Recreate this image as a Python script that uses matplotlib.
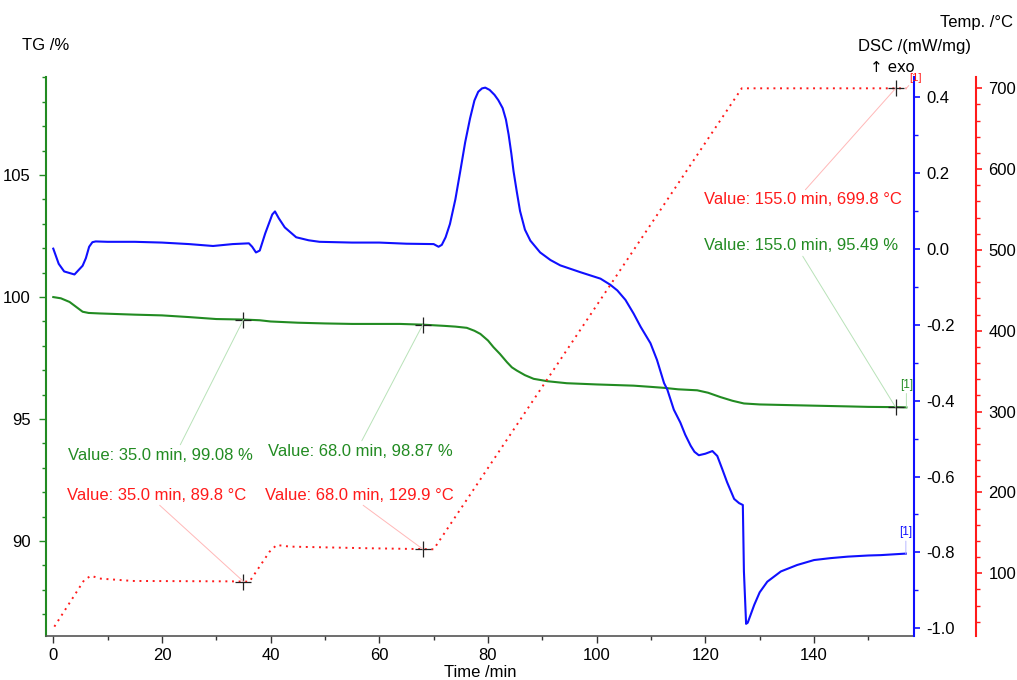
import matplotlib
matplotlib.use("Agg")
import matplotlib.pyplot as plt
from matplotlib.ticker import MultipleLocator

plt.rcParams['font.family'] = ['Liberation Sans', 'DejaVu Sans']

# ---------------- data ----------------
tg_time = [0, 1.4, 3, 4.5, 5.4, 6.5, 8.5, 15, 20, 25, 30, 35, 38, 40, 45, 50, 55, 60,
           63.8, 68, 72, 74, 76.1, 77.5, 78.6, 80, 81, 82.2, 83.5, 84.4, 85.3, 86.8,
           88.4, 91, 94.5, 100, 106.8, 110, 112.4, 115, 118.5, 120.5, 122.8, 125,
           127.1, 130, 133.9, 140, 146.2, 150, 155, 157]
tg_value = [100.0, 99.95, 99.8, 99.55, 99.4, 99.35, 99.33, 99.28, 99.25, 99.18, 99.1,
            99.08, 99.05, 99.0, 98.95, 98.92, 98.9, 98.9, 98.9, 98.87, 98.82, 98.79,
            98.74, 98.62, 98.49, 98.22, 97.95, 97.67, 97.33, 97.12, 96.99, 96.8, 96.65,
            96.55, 96.47, 96.42, 96.37, 96.32, 96.28, 96.22, 96.18, 96.08, 95.9, 95.75,
            95.64, 95.6, 95.58, 95.55, 95.52, 95.5, 95.49, 95.48]

dsc_time = [0, 1, 2, 3.9, 5.4, 6.0, 6.6, 7.2, 7.8, 10, 15, 20, 25, 29.4, 33, 36, 36.6, 37.3,
            38, 39, 40.3, 40.8, 41.5, 42.6, 44.7, 47, 49, 55, 60, 65, 70, 70.9, 71.5,
            72.2, 73, 74, 74.9, 75.8, 76.7, 77.5, 78.2, 78.9, 79.5, 80.3, 81.2, 81.9,
            82.7, 83.3, 83.8, 84.3, 84.7, 85.3, 85.9, 86.8, 87.8, 89.6, 91.5, 93.3, 97,
            100.7, 102.5, 103.8, 105.3, 106.8, 108.1, 109.9, 111.1, 112.4, 113, 114.2,
            115.4, 116.3, 117.3, 118.0, 118.8, 120, 121.3, 122.2, 123.1, 124, 125.3,
            126.2, 126.9, 127.1, 127.5, 127.8, 129, 130, 131.4, 133.9, 136.9, 140, 143,
            146.2, 150, 152.3, 156.9]
dsc_value = [0.0, -0.04, -0.06, -0.068, -0.045, -0.025, 0.005, 0.017, 0.019, 0.018, 0.018,
             0.016, 0.012, 0.007, 0.012, 0.014, 0.005, -0.01, -0.005, 0.04, 0.09, 0.098,
             0.08, 0.056, 0.03, 0.022, 0.018, 0.016, 0.016, 0.013, 0.012, 0.005, 0.01,
             0.03, 0.065, 0.13, 0.204, 0.28, 0.343, 0.39, 0.413, 0.422, 0.424, 0.418,
             0.405, 0.391, 0.37, 0.34, 0.3, 0.25, 0.204, 0.15, 0.099, 0.05, 0.021, -0.01,
             -0.03, -0.044, -0.062, -0.079, -0.095, -0.11, -0.135, -0.171, -0.206, -0.249,
             -0.293, -0.354, -0.371, -0.424, -0.458, -0.49, -0.519, -0.535, -0.544, -0.54,
             -0.533, -0.546, -0.58, -0.615, -0.659, -0.67, -0.675, -0.85, -0.988, -0.985,
             -0.938, -0.905, -0.877, -0.85, -0.833, -0.82, -0.815, -0.811, -0.808, -0.807,
             -0.803]

temp_time = [0.2, 5.7, 6.95, 8.5, 14.6, 33, 36.1, 39.8, 41.1, 43.5, 57.7, 70, 126.7, 157]
temp_value = [34, 91.7, 97, 93.5, 90.5, 90, 89.6, 126.7, 135, 133, 131, 129.7, 700, 700]

# annotated points: (time, value) and their labels
tg_marks = [(35.0, 99.08), (68.0, 98.87), (155.0, 95.49)]
temp_marks = [(35.0, 89.8), (68.0, 129.9), (155.0, 699.8)]
tg_labels = ["Value: 35.0 min, 99.08 %", "Value: 68.0 min, 98.87 %", "Value: 155.0 min, 95.49 %"]
temp_labels = ["Value: 35.0 min, 89.8 °C", "Value: 68.0 min, 129.9 °C", "Value: 155.0 min, 699.8 °C"]

# ---------------- styling ----------------
GREEN = '#228B22'
BLUE = '#1010FF'
RED = '#FF1A1A'
W, H = 1017, 680

fig = plt.figure(figsize=(W / 100, H / 100), dpi=100)
L, R, B, T = 46, 914, 636, 77
ax = fig.add_axes([L / W, 1 - B / H, (R - L) / W, (B - T) / H])
ax2 = ax.twinx()
ax3 = ax.twinx()

ax.set_xlim(-1.34, 158.4)
ax.set_ylim(86.11, 109.02)
ax2.set_ylim(-1.020, 0.452)
ax3.set_ylim(22.4, 714)

# lines
ax.plot(tg_time, tg_value, color=GREEN, lw=1.5, zorder=3)
ax2.plot(dsc_time, dsc_value, color=BLUE, lw=1.5, zorder=3)
ax3.plot(temp_time, temp_value, color=RED, lw=1.4, linestyle=(0, (1, 2.4)), zorder=3)

# spines
for a in (ax, ax2, ax3):
    a.patch.set_visible(False)
ax.spines['top'].set_visible(False)
ax.spines['right'].set_visible(False)
ax.spines['left'].set_color(GREEN)
ax.spines['left'].set_linewidth(1.5)
ax.spines['bottom'].set_color('#555555')
ax.spines['bottom'].set_linewidth(1.2)
for a in (ax2, ax3):
    a.spines['top'].set_visible(False)
    a.spines['left'].set_visible(False)
    a.spines['bottom'].set_visible(False)
ax2.spines['right'].set_color(BLUE)
ax2.spines['right'].set_linewidth(1.5)
ax3.spines['right'].set_position(('axes', 1 + 62 / (R - L)))
ax3.spines['right'].set_color(RED)
ax3.spines['right'].set_linewidth(1.5)

# ticks
ax.xaxis.set_major_locator(MultipleLocator(20))
ax.xaxis.set_minor_locator(MultipleLocator(10))
ax.yaxis.set_major_locator(MultipleLocator(5))
ax.yaxis.set_minor_locator(MultipleLocator(1))
ax2.yaxis.set_major_locator(MultipleLocator(0.2))
ax2.yaxis.set_minor_locator(MultipleLocator(0.1))
ax3.yaxis.set_major_locator(MultipleLocator(100))
ax3.yaxis.set_minor_locator(MultipleLocator(20))
ax2.yaxis.set_major_formatter(matplotlib.ticker.FormatStrFormatter('%.1f'))

ax.tick_params(axis='x', which='major', length=5, width=1, color='#333333', labelsize=12, pad=4)
ax.tick_params(axis='x', which='minor', length=3, width=1, color='#333333')
ax.tick_params(axis='y', which='major', length=5, width=1, color=GREEN, labelsize=12, pad=6)
ax.tick_params(axis='y', which='minor', length=3, width=1, color=GREEN)
ax2.tick_params(axis='y', which='major', length=4, width=1.2, color=BLUE, labelsize=12, pad=5)
ax2.tick_params(axis='y', which='minor', length=3, width=1, color=BLUE)
ax3.tick_params(axis='y', which='major', length=4, width=1.2, color=RED, labelsize=12, pad=5)
ax3.tick_params(axis='y', which='minor', length=3, width=1, color=RED)

ax.set_xlabel('Time /min', fontsize=12, labelpad=1)

# axis titles
fig.text(L / W, 1 - 46 / H, 'TG /%', ha='center', va='center', fontsize=12)
fig.text(R / W, 1 - 46 / H, 'DSC /(mW/mg)', ha='center', va='center', fontsize=12)
fig.text(976.5 / W, 1 - 23 / H, 'Temp. /°C', ha='center', va='center', fontsize=12)
fig.text(892 / W, 1 - 67 / H, '↑ exo', ha='center', va='center', fontsize=11,
         family=['DejaVu Sans'])

# markers
ax.plot([m[0] for m in tg_marks], [m[1] for m in tg_marks], '+', color='#222222',
        ms=11, mew=0.9, zorder=5)
ax3.plot([m[0] for m in temp_marks], [m[1] for m in temp_marks], '+', color='#222222',
         ms=11, mew=0.9, zorder=5)

def fx(px):
    return (px - L) / (R - L)

def fy(py):
    return (B - py) / (B - T)

LG = '#b8e2b8'
LR = '#ffb8b8'
tg_text_pos = [(68, 455, (0.6, 1)), (268, 451, (0.5, 1)), (704, 246, (0.5, 0))]
temp_text_pos = [(67, 495, (0.5, 0)), (265, 495, (0.5, 0)), (704, 200, (0.5, 1))]

for (t, v), lab, (px, py, rp) in zip(tg_marks, tg_labels, tg_text_pos):
    ax.annotate(lab, xy=(t, v), xytext=(fx(px), fy(py)), textcoords='axes fraction',
                ha='left', va='center', color=GREEN, fontsize=12, zorder=6,
                arrowprops=dict(arrowstyle='-', color=LG, lw=0.7, relpos=rp,
                                shrinkA=0, shrinkB=0))
for (t, v), lab, (px, py, rp) in zip(temp_marks, temp_labels, temp_text_pos):
    ax3.annotate(lab, xy=(t, v), xytext=(fx(px), fy(py)), textcoords='axes fraction',
                 ha='left', va='center', color=RED, fontsize=12, zorder=6,
                 arrowprops=dict(arrowstyle='-', color=LR, lw=0.7, relpos=rp,
                                 shrinkA=0, shrinkB=0))

# curve end tags "[1]"
ax.annotate('[1]', xy=(tg_time[-1], tg_value[-1]), xytext=(0, 12), textcoords='offset points',
            ha='center', va='bottom', color=GREEN, fontsize=8.5,
            arrowprops=dict(arrowstyle='-', color=LG, lw=0.7, shrinkA=0, shrinkB=0))
ax2.annotate('[1]', xy=(dsc_time[-1], dsc_value[-1]), xytext=(0, 11), textcoords='offset points',
             ha='center', va='bottom', color=BLUE, fontsize=8.5,
             arrowprops=dict(arrowstyle='-', color='#b8b8ff', lw=0.7, shrinkA=0, shrinkB=0))
ax3.annotate('[1]', xy=(temp_time[-1], temp_value[-1]), xytext=(2, 4), textcoords='offset points',
             ha='left', va='bottom', color=RED, fontsize=8,
             arrowprops=dict(arrowstyle='-', color=LR, lw=0.7, shrinkA=0, shrinkB=0))

fig.savefig('out.png', dpi=100)
